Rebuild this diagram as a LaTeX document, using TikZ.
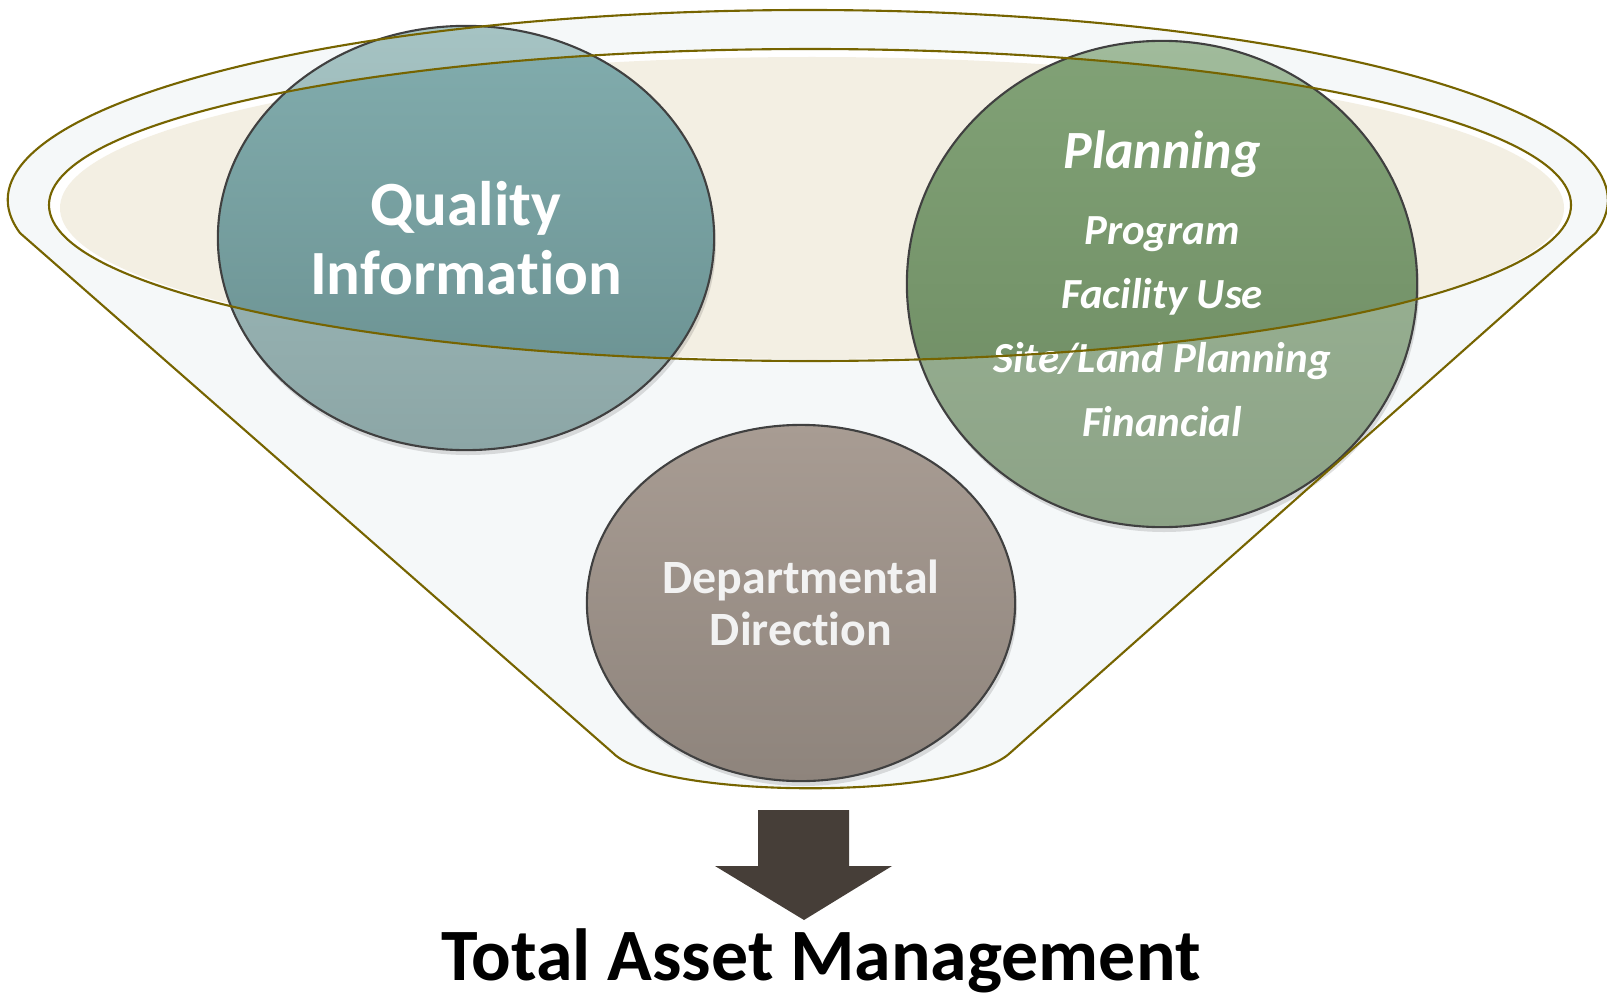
\documentclass[tikz,border=0pt]{standalone}
\usepackage{fontspec}
\setmainfont{Carlito}[Ligatures=NoCommon]
\usetikzlibrary{shapes.geometric}
\definecolor{rimline}{RGB}{118,100,0}
\definecolor{funnelfill}{RGB}{245,248,249}
\definecolor{rimfill}{RGB}{243,239,227}
\definecolor{qlightT}{RGB}{165,195,195}
\definecolor{qlightB}{RGB}{140,166,166}
\definecolor{qdarkT}{RGB}{130,173,174}
\definecolor{qdarkB}{RGB}{104,142,142}
\definecolor{plightT}{RGB}{160,187,155}
\definecolor{plightB}{RGB}{140,162,134}
\definecolor{pdarkT}{RGB}{129,162,118}
\definecolor{pdarkB}{RGB}{108,137,97}
\definecolor{deptT}{RGB}{168,156,147}
\definecolor{deptB}{RGB}{142,132,124}
\definecolor{arrowfill}{RGB}{70,62,56}
\tikzset{rim/.style={draw=rimline, line width=0.6pt}}
\tikzset{bubble/.style={ellipse, draw=black!75, line width=0.6pt, inner sep=0pt, align=center, text=white}}
\tikzset{shadowfill/.style={fill=black, opacity=0.12}}

\begin{document}
\begin{tikzpicture}[x=0.01cm,y=-0.01cm]
\useasboundingbox (0,0) rectangle (1607,997);

% funnel and rim
\fill[funnelfill] (613,753) -- (20,233)
  arc[start angle=170, end angle=370, x radius=800, y radius=190]
  -- (1010,753) .. controls (960,800) and (660,800) .. cycle;
\fill[white] (810,205) ellipse [x radius=761, y radius=156];
\fill[rimfill] (812,208) ellipse [x radius=752, y radius=151];

% bubbles, outer part
\fill[shadowfill] (468,243) ellipse [x radius=248, y radius=212];
\fill[shadowfill] (1164,289) ellipse [x radius=255, y radius=243];
\fill[shadowfill] (803,608) ellipse [x radius=214, y radius=178];
\fill[top color=qlightT, bottom color=qlightB] (466,238) ellipse [x radius=248, y radius=212];
\fill[top color=plightT, bottom color=plightB] (1162,284) ellipse [x radius=255, y radius=243];
\fill[top color=deptT, bottom color=deptB] (801,603) ellipse [x radius=214, y radius=178];

% bubbles, part inside the rim
\begin{scope}
\clip (810,205) ellipse [x radius=761, y radius=156];
\fill[top color=qdarkT, bottom color=qdarkB] (466,238) ellipse [x radius=248, y radius=212];
\fill[top color=pdarkT, bottom color=pdarkB] (1162,284) ellipse [x radius=255, y radius=243];
\end{scope}

\node[bubble, minimum width=4.96cm, minimum height=4.24cm,
  font=\fontsize{17.9}{19.6}\selectfont\bfseries] (qual) at (466,238) {Quality\\Information};
\node[bubble, minimum width=5.10cm, minimum height=4.86cm,
  font=\fontsize{12.2}{18.2}\selectfont\bfseries\itshape] (plan) at (1162,284)
  {{\fontsize{15.3}{18.2}\selectfont Planning}\\[3.4pt] Program\\ Facility Use\\ Site/Land Planning\\ Financial};
\node[bubble, minimum width=4.28cm, minimum height=3.56cm, text=black!5,
  font=\fontsize{13.6}{14.8}\selectfont\bfseries] (dept) at (801,603) {Departmental\\Direction};

% rim lines on top
\draw[rim] (613,753) -- (20,233)
  arc[start angle=170, end angle=370, x radius=800, y radius=190]
  -- (1010,753) .. controls (960,800) and (660,800) .. cycle;
\draw[rim] (810,205) ellipse [x radius=761, y radius=156];

% output
\fill[arrowfill] (758,810) -- (849,810) -- (849,866) -- (892,866) -- (804,920)
  -- (715,866) -- (758,866) -- cycle;
\node[anchor=base, font=\fontsize{21}{25}\selectfont\bfseries] (tam) at (821,980) {Total Asset Management};
\end{tikzpicture}
\end{document}
